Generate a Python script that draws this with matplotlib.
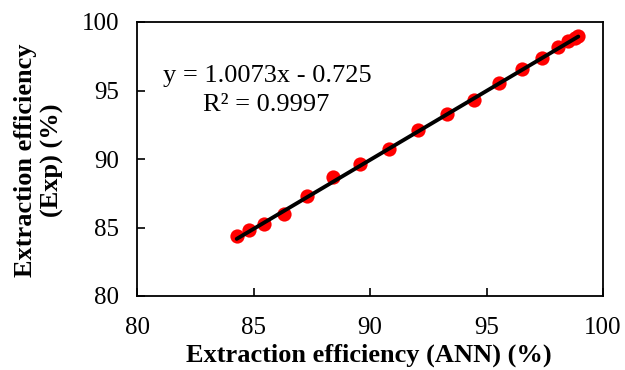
import matplotlib
matplotlib.use("Agg")
import matplotlib.pyplot as plt
import numpy as np

ann = [84.28, 84.82, 85.46, 86.31, 87.31, 88.43, 89.59, 90.81, 92.07, 93.29,
       94.47, 95.53, 96.54, 97.37, 98.08, 98.51, 98.80, 98.94]
exp = [84.38, 84.82, 85.26, 86.00, 87.32, 88.69, 89.66, 90.73, 92.12, 93.26,
       94.31, 95.57, 96.59, 97.35, 98.15, 98.60, 98.84, 98.96]
slope = 1.0073
intercept = -0.725
eq_text = "y = 1.0073x - 0.725"
r2_text = "R² = 0.9997"
ticks = [80, 85, 90, 95, 100]

plt.rcParams['font.family'] = ['Liberation Serif', 'DejaVu Serif']

W, H = 625, 370
fig = plt.figure(figsize=(6.25, 3.7), dpi=100)
ax = fig.add_axes([137/W, 1-296/H, (603-137)/W, (296-22)/H])

ax.scatter(ann, exp, s=105, color='#ff0000', zorder=2, linewidths=0)
xl = np.array([min(ann), max(ann)])
ax.plot(xl, slope * xl + intercept, color='black', lw=2.8, zorder=3, solid_capstyle='round')

ax.set_xlim(80, 100)
ax.set_ylim(80, 100)
ax.set_xticks(ticks)
ax.set_yticks(ticks)
ax.tick_params(direction='in', length=5.5, width=1.2, labelsize=18)
ax.tick_params(axis='y', pad=13)
ax.tick_params(axis='x', pad=15)
for s in ax.spines.values():
    s.set_linewidth(1.3)

fig.text(369/W, 1-355/H, "Extraction efficiency (ANN) (%)", fontsize=19,
         fontweight='bold', ha='center', va='center')
fig.text(39/W, 1-160/H, "Extraction efficiency\n(Exp) (%)", fontsize=19,
         fontweight='bold', ha='center', va='center', rotation=90,
         linespacing=1.2, multialignment='center')

fig.text(163/W, 1-76/H, eq_text, fontsize=19, va='center', ha='left')
fig.text(203/W, 1-105/H, r2_text, fontsize=19, va='center', ha='left')
fig.savefig("out.png", dpi=100)
